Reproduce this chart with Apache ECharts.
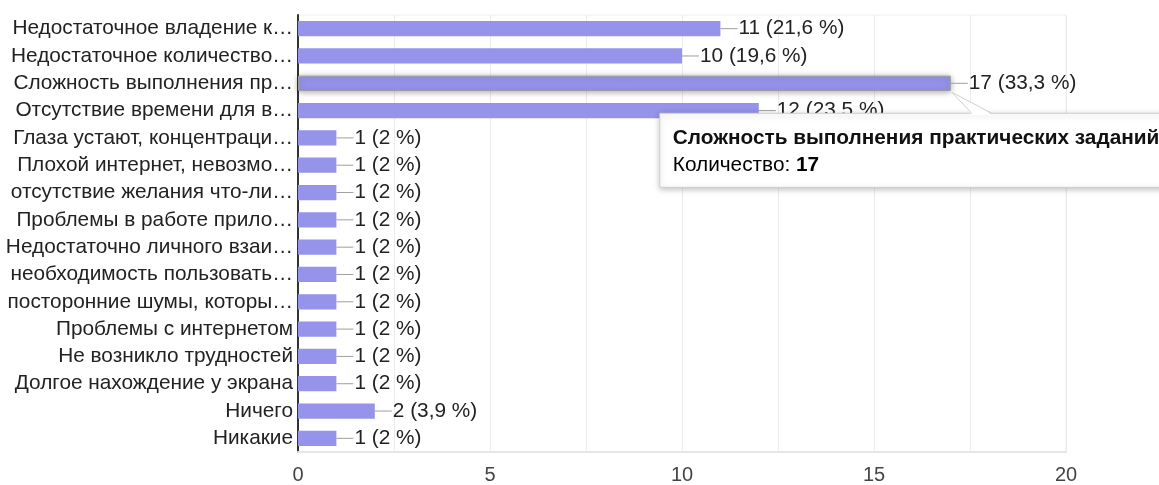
<!DOCTYPE html>
<html><head><meta charset="utf-8">
<script src="https://cdn.jsdelivr.net/npm/echarts@6/dist/echarts.min.js"></script>
<style>html,body{margin:0;padding:0;background:#fff}#c{width:1159px;height:485px}</style>
</head><body><div id="c"></div>
<script>
const categories = [
  'Недостаточное владение к…',
  'Недостаточное количество…',
  'Сложность выполнения пр…',
  'Отсутствие времени для в…',
  'Глаза устают, концентраци…',
  'Плохой интернет, невозмо…',
  'отсутствие желания что-ли…',
  'Проблемы в работе прило…',
  'Недостаточно личного взаи…',
  'необходимость пользовать…',
  'посторонние шумы, которы…',
  'Проблемы с интернетом',
  'Не возникло трудностей',
  'Долгое нахождение у экрана',
  'Ничего',
  'Никакие'
];
const counts = [11, 10, 17, 12, 1, 1, 1, 1, 1, 1, 1, 1, 1, 1, 2, 1];
const totalResponses = 51;
const xTickLabels = ['0', '5', '10', '15', '20'];
const tooltipIndex = 2;
const tooltipTitle = 'Сложность выполнения практических заданий';
const tooltipValueName = 'Количество';

const FONT = '"Liberation Sans", Arial, sans-serif';
const BAR = '#9593ea';
const FS = 20.8;

function pctText(v) {
  const p = Number((v / totalResponses * 100).toFixed(1));
  return String(p).replace('.', ',');
}

const seriesData = counts.map((v, i) => {
  if (i === tooltipIndex) {
    return { value: v, itemStyle: { color: BAR, borderColor: '#9c9c9c', borderWidth: 1,
      shadowBlur: 6, shadowColor: 'rgba(0,0,0,0.35)', shadowOffsetY: 1 } };
  }
  return v;
});

const chart = echarts.init(document.getElementById('c'), null, { renderer: 'canvas' });
chart.setOption({
  animation: false,
  textStyle: { fontFamily: FONT },
  grid: { left: 298, right: 93, top: 15, bottom: 33, show: true, borderColor: '#f0f0f0', borderWidth: 1 },
  xAxis: {
    type: 'value', min: 0, max: 20, interval: 2.5,
    axisLine: { show: true, lineStyle: { color: '#e6e6e6', width: 2 } },
    axisTick: { show: false },
    splitLine: { show: true, lineStyle: { color: '#ececec', width: 1 } },
    axisLabel: {
      fontSize: 20, color: '#444', fontFamily: FONT, margin: 13,
      formatter: v => (xTickLabels.indexOf(String(v)) >= 0 ? String(v) : '')
    }
  },
  yAxis: {
    type: 'category', inverse: true, data: categories,
    axisLine: { show: true, lineStyle: { color: '#333', width: 2 } },
    axisTick: { show: false },
    axisLabel: { fontSize: FS, color: '#222', fontFamily: FONT, margin: 5, interval: 0 }
  },
  series: [{
    type: 'bar', data: seriesData, barCategoryGap: '44%',
    itemStyle: { color: BAR },
    label: {
      show: true, position: 'right', distance: 0,
      formatter: p => '{ln|}{v|' + p.value + ' (' + pctText(p.value) + ' %)}',
      rich: {
        ln: { width: 17, height: 1, backgroundColor: '#9e9e9e' },
        v: { fontSize: FS, color: '#222', fontFamily: FONT, padding: [0, 0, 0, 1] }
      }
    }
  }]
});

const tip = chart.convertToPixel({ xAxisIndex: 0, yAxisIndex: 0 }, [counts[tooltipIndex], tooltipIndex]);
const tx = tip[0] + 1, ty = tip[1] + 9;
const boxL = tx - 292, boxT = ty + 21, boxH = 74, boxW = 600;
chart.setOption({
  graphic: [
    { type: 'rect', z: 100, shape: { x: boxL, y: boxT, width: boxW, height: boxH },
      style: { fill: '#fff', stroke: '#cfcfcf', lineWidth: 1, shadowBlur: 6, shadowColor: 'rgba(0,0,0,0.25)', shadowOffsetY: 2 } },
    { type: 'polygon', z: 101, shape: { points: [[tx, ty], [tx + 20, boxT + 1.5], [tx + 40, boxT + 1.5]] },
      style: { fill: '#fff', stroke: null } },
    { type: 'polyline', z: 102, shape: { points: [[tx + 20, boxT], [tx, ty], [tx + 40, boxT]] },
      style: { fill: null, stroke: '#cfcfcf', lineWidth: 1 } },
    { type: 'text', z: 103, x: boxL + 13, y: boxT + 25,
      style: { text: tooltipTitle, font: 'bold ' + FS + 'px ' + FONT, fill: '#111', verticalAlign: 'middle' } },
    { type: 'text', z: 103, x: boxL + 13, y: boxT + 52,
      style: { text: '{l|' + tooltipValueName + ': }{b|' + counts[tooltipIndex] + '}', verticalAlign: 'middle',
        rich: { l: { fontSize: FS, fontFamily: FONT, color: '#333' },
                b: { fontSize: FS, fontFamily: FONT, fontWeight: 'bold', color: '#111' } } } }
  ]
});
</script></body></html>
